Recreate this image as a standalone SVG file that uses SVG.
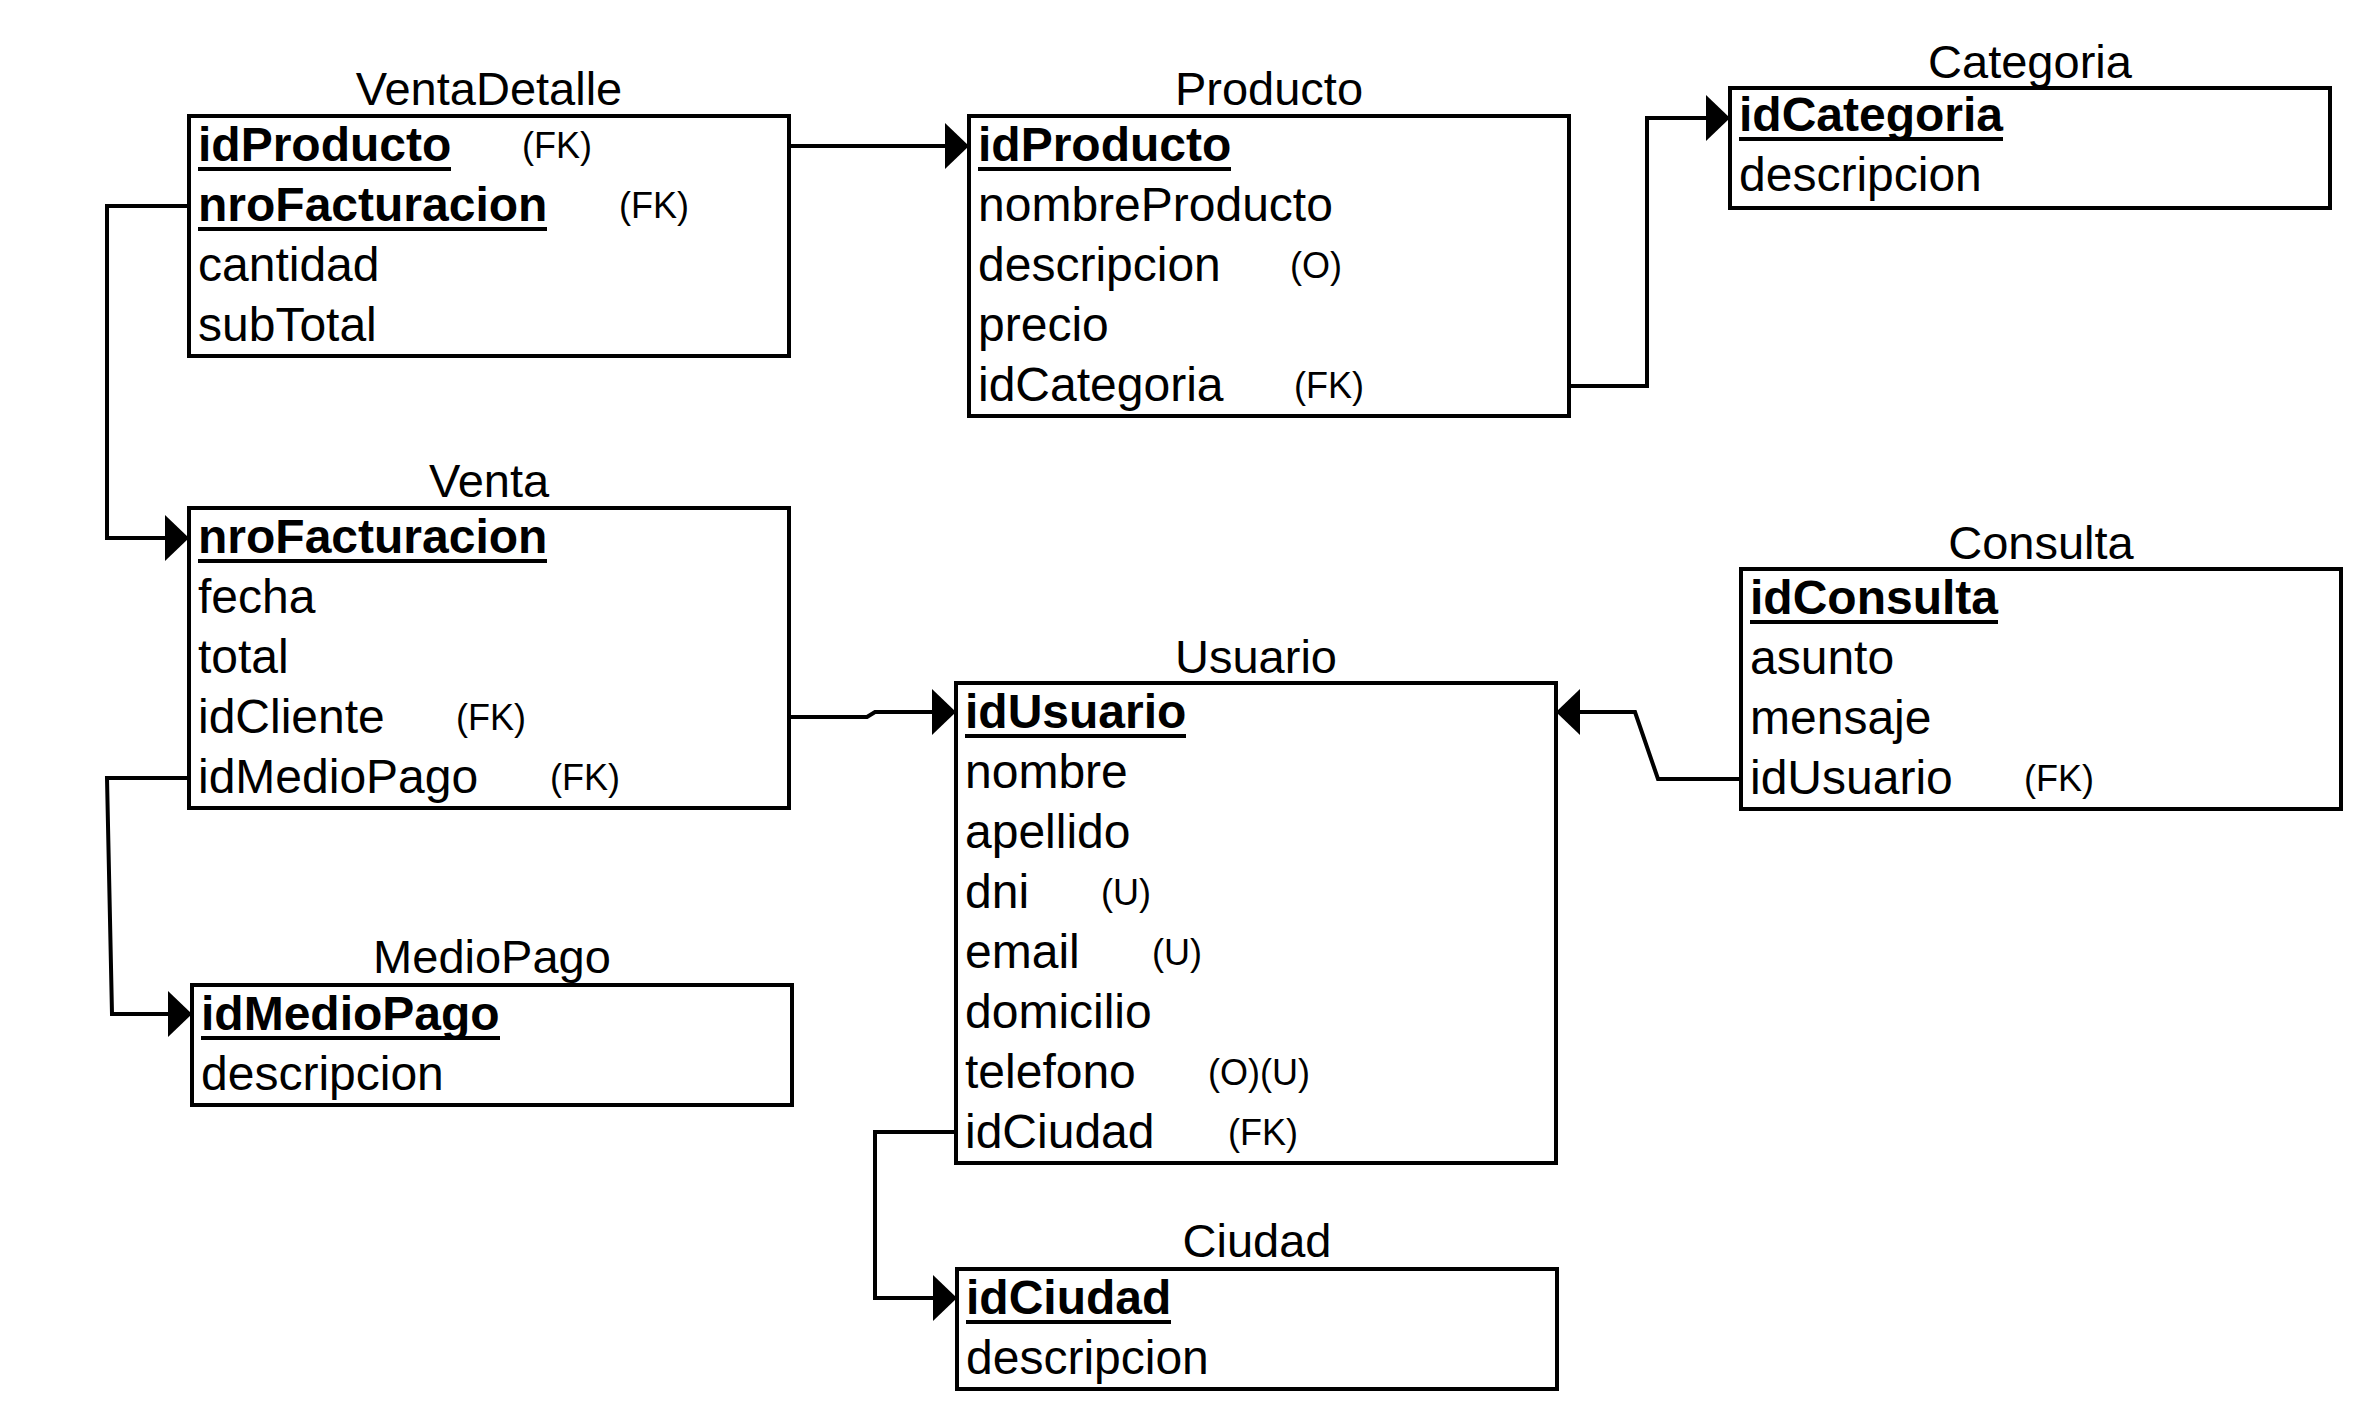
<svg xmlns="http://www.w3.org/2000/svg" width="2368" height="1416" viewBox="0 0 2368 1416">
<style>
  .box { fill: #ffffff; stroke: #000000; stroke-width: 4; }
  .title { font-family: "Liberation Sans", Arial, sans-serif; font-size: 47px; fill: #000000; text-anchor: middle; }
  .attr { font-family: "Liberation Sans", Arial, sans-serif; font-size: 48px; fill: #000000; }
  .pk { font-family: "Liberation Sans", Arial, sans-serif; font-size: 48px; font-weight: bold; fill: #000000; }
  .note { font-family: "Liberation Sans", Arial, sans-serif; font-size: 36px; fill: #000000; }
  .ul { stroke: #000000; stroke-width: 4; }
  .conn { fill: none; stroke: #000000; stroke-width: 4; stroke-linejoin: miter; }
</style>
<defs>
  <marker id="arrow" viewBox="0 0 24 46" refX="24" refY="23" markerWidth="24" markerHeight="46" markerUnits="userSpaceOnUse" orient="auto">
    <path d="M0,0 L24,23 L0,46 Z" fill="#000000"/>
  </marker>
</defs>
<rect width="2368" height="1416" fill="#ffffff"/>

<g id="connectors">
  <path class="conn" d="M789,146 H969" marker-end="url(#arrow)"/>
  <path class="conn" d="M189,206 H107 V538 H189" marker-end="url(#arrow)"/>
  <path class="conn" d="M1569,386 H1647 V118 H1730" marker-end="url(#arrow)"/>
  <path class="conn" d="M789,717 H867 L875,712 H956" marker-end="url(#arrow)"/>
  <path class="conn" d="M189,778 H107 L112,1014 H192" marker-end="url(#arrow)"/>
  <path class="conn" d="M1741,779 H1658 L1635,712 H1556" marker-end="url(#arrow)"/>
  <path class="conn" d="M956,1132 H875 V1298 H957" marker-end="url(#arrow)"/>
</g>

<g id="VentaDetalle">
  <text class="title" x="489" y="105">VentaDetalle</text>
  <rect class="box" x="189" y="116" width="600" height="240"/>
  <text class="pk" x="198" y="161">idProducto</text>
  <line class="ul" x1="198" y1="169" x2="451" y2="169"/>
  <text class="note" x="522" y="158">(FK)</text>
  <text class="pk" x="198" y="221">nroFacturacion</text>
  <line class="ul" x1="198" y1="229" x2="547" y2="229"/>
  <text class="note" x="619" y="218">(FK)</text>
  <text class="attr" x="198" y="281">cantidad</text>
  <text class="attr" x="198" y="341">subTotal</text>
</g>

<g id="Producto">
  <text class="title" x="1269" y="105">Producto</text>
  <rect class="box" x="969" y="116" width="600" height="300"/>
  <text class="pk" x="978" y="161">idProducto</text>
  <line class="ul" x1="978" y1="169" x2="1231" y2="169"/>
  <text class="attr" x="978" y="221">nombreProducto</text>
  <text class="attr" x="978" y="281">descripcion</text>
  <text class="note" x="1290" y="278">(O)</text>
  <text class="attr" x="978" y="341">precio</text>
  <text class="attr" x="978" y="401">idCategoria</text>
  <text class="note" x="1294" y="398">(FK)</text>
</g>

<g id="Categoria">
  <text class="title" x="2030" y="78">Categoria</text>
  <rect class="box" x="1730" y="88" width="600" height="120"/>
  <text class="pk" x="1739" y="131">idCategoria</text>
  <line class="ul" x1="1739" y1="139" x2="2003" y2="139"/>
  <text class="attr" x="1739" y="191">descripcion</text>
</g>

<g id="Venta">
  <text class="title" x="489" y="497">Venta</text>
  <rect class="box" x="189" y="508" width="600" height="300"/>
  <text class="pk" x="198" y="553">nroFacturacion</text>
  <line class="ul" x1="198" y1="561" x2="547" y2="561"/>
  <text class="attr" x="198" y="613">fecha</text>
  <text class="attr" x="198" y="673">total</text>
  <text class="attr" x="198" y="733">idCliente</text>
  <text class="note" x="456" y="730">(FK)</text>
  <text class="attr" x="198" y="793">idMedioPago</text>
  <text class="note" x="550" y="790">(FK)</text>
</g>

<g id="Consulta">
  <text class="title" x="2041" y="559">Consulta</text>
  <rect class="box" x="1741" y="569" width="600" height="240"/>
  <text class="pk" x="1750" y="614">idConsulta</text>
  <line class="ul" x1="1750" y1="622" x2="1998" y2="622"/>
  <text class="attr" x="1750" y="674">asunto</text>
  <text class="attr" x="1750" y="734">mensaje</text>
  <text class="attr" x="1750" y="794">idUsuario</text>
  <text class="note" x="2024" y="791">(FK)</text>
</g>

<g id="Usuario">
  <text class="title" x="1256" y="673">Usuario</text>
  <rect class="box" x="956" y="683" width="600" height="480"/>
  <text class="pk" x="965" y="728">idUsuario</text>
  <line class="ul" x1="965" y1="736" x2="1186" y2="736"/>
  <text class="attr" x="965" y="788">nombre</text>
  <text class="attr" x="965" y="848">apellido</text>
  <text class="attr" x="965" y="908">dni</text>
  <text class="note" x="1101" y="905">(U)</text>
  <text class="attr" x="965" y="968">email</text>
  <text class="note" x="1152" y="965">(U)</text>
  <text class="attr" x="965" y="1028">domicilio</text>
  <text class="attr" x="965" y="1088">telefono</text>
  <text class="note" x="1208" y="1085">(O)(U)</text>
  <text class="attr" x="965" y="1148">idCiudad</text>
  <text class="note" x="1228" y="1145">(FK)</text>
</g>

<g id="MedioPago">
  <text class="title" x="492" y="973">MedioPago</text>
  <rect class="box" x="192" y="985" width="600" height="120"/>
  <text class="pk" x="201" y="1030">idMedioPago</text>
  <line class="ul" x1="201" y1="1038" x2="500" y2="1038"/>
  <text class="attr" x="201" y="1090">descripcion</text>
</g>

<g id="Ciudad">
  <text class="title" x="1257" y="1257">Ciudad</text>
  <rect class="box" x="957" y="1269" width="600" height="120"/>
  <text class="pk" x="966" y="1314">idCiudad</text>
  <line class="ul" x1="966" y1="1322" x2="1171" y2="1322"/>
  <text class="attr" x="966" y="1374">descripcion</text>
</g>
</svg>
